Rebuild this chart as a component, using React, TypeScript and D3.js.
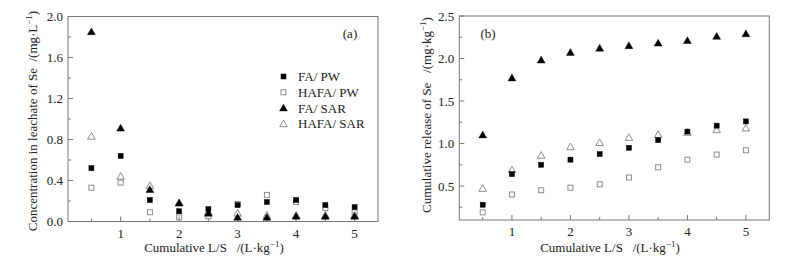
import React from "react";
import * as d3 from "d3";

const LS = [0.5, 1, 1.5, 2, 2.5, 3, 3.5, 4, 4.5, 5];
// Panel (a): concentration in leachate
const concFAPW = [0.52, 0.64, 0.21, 0.1, 0.12, 0.16, 0.19, 0.21, 0.16, 0.14];
const concHAFAPW = [0.33, 0.38, 0.09, 0.04, 0.05, 0.17, 0.26, 0.19, 0.13, 0.09];
const concFASAR = [1.85, 0.91, 0.31, 0.18, 0.08, 0.04, 0.04, 0.05, 0.05, 0.05];
const concHAFASAR = [0.83, 0.44, 0.35, 0.18, 0.09, 0.08, 0.06, 0.06, 0.06, 0.06];
// Panel (b): cumulative release
const cumFAPW = [0.28, 0.64, 0.75, 0.81, 0.875, 0.95, 1.04, 1.14, 1.21, 1.26];
const cumHAFAPW = [0.19, 0.4, 0.45, 0.48, 0.52, 0.6, 0.72, 0.81, 0.87, 0.92];
const cumFASAR = [1.1, 1.77, 1.98, 2.07, 2.12, 2.15, 2.18, 2.21, 2.26, 2.29];
const cumHAFASAR = [0.47, 0.69, 0.86, 0.96, 1.01, 1.07, 1.105, 1.13, 1.16, 1.18];

const seriesNames = ["FA/ PW", "HAFA/ PW", "FA/ SAR", "HAFA/ SAR"];
const xTicksMajor = [1, 2, 3, 4, 5];
const xTicksMinor = [0.5, 1.5, 2.5, 3.5, 4.5];
const yTicksA = [0, 0.4, 0.8, 1.2, 1.6, 2.0];
const yMinorA = [0.2, 0.6, 1.0, 1.4, 1.8];
const yTicksB = [0.5, 1.0, 1.5, 2.0, 2.5];
const yMinorB = [0.25, 0.75, 1.25, 1.75, 2.25];

const FONT = "'Liberation Serif', 'Times New Roman', Times, serif";
const AXIS = "#777";
const HOLLOW = "#808080";

type Shape = "sq" | "sqo" | "tri" | "trio";
const shapes: Shape[] = ["sq", "sqo", "tri", "trio"];

function Marker({ x, y, shape }: { x: number; y: number; shape: Shape }) {
  if (shape === "sq" || shape === "sqo") {
    const s = 5;
    return (
      <rect
        x={x - s / 2}
        y={y - s / 2}
        width={s}
        height={s}
        fill={shape === "sq" ? "#000" : "none"}
        stroke={shape === "sq" ? "#000" : HOLLOW}
        strokeWidth={shape === "sq" ? 0.5 : 0.9}
      />
    );
  }
  const tri = d3.symbol().type(d3.symbolTriangle).size(shape === "tri" ? 27 : 25)();
  return (
    <path
      d={tri as string}
      transform={`translate(${x},${y + 0.6})`}
      fill={shape === "tri" ? "#000" : "none"}
      stroke={shape === "tri" ? "#000" : HOLLOW}
      strokeWidth={shape === "tri" ? 0.4 : 0.9}
    />
  );
}

function Panel(props: {
  x0: number;
  x1: number;
  yTop: number;
  yBot: number;
  yDomain: [number, number];
  yTicks: number[];
  yMinor: number[];
  series: number[][];
  yTitle: React.ReactNode;
  yTitleX: number;
  yTitleY: number;
  xTitleX: number;
}) {
  const { x0, x1, yTop, yBot, yDomain, yTicks, yMinor, series } = props;
  const x = d3.scaleLinear().domain([0.1, 5.4]).range([x0, x1]);
  const y = d3.scaleLinear().domain(yDomain).range([yBot, yTop]);
  const ord = [1, 3, 0, 2];
  return (
    <g>
      <rect x={x0} y={yTop} width={x1 - x0} height={yBot - yTop} fill="none" stroke={AXIS} strokeWidth={1} />
      {xTicksMajor.map((t) => (
        <g key={"xm" + t}>
          <line x1={x(t)} x2={x(t)} y1={yBot} y2={yBot - 5} stroke={AXIS} />
          <text x={x(t)} y={yBot + 16} textAnchor="middle" fontSize={13} fontFamily={FONT} fill="#222">
            {t}
          </text>
        </g>
      ))}
      {xTicksMinor.map((t) => (
        <line key={"xn" + t} x1={x(t)} x2={x(t)} y1={yBot} y2={yBot - 3} stroke={AXIS} />
      ))}
      {yTicks.map((t) => (
        <g key={"ym" + t}>
          <line x1={x0} x2={x0 + 5} y1={y(t)} y2={y(t)} stroke={AXIS} />
          <text x={x0 - 5} y={y(t) + 4.5} textAnchor="end" fontSize={13} fontFamily={FONT} fill="#222">
            {t.toFixed(1)}
          </text>
        </g>
      ))}
      {yMinor.map((t) => (
        <line key={"yn" + t} x1={x0} x2={x0 + 3} y1={y(t)} y2={y(t)} stroke={AXIS} />
      ))}
      {ord.map((si) =>
        series[si].map((v, i) => <Marker key={si + "-" + i} x={x(LS[i])} y={y(v)} shape={shapes[si]} />)
      )}
      <text x={props.xTitleX} y={252} textAnchor="middle" fontSize={13} fontFamily={FONT} fill="#222">
        Cumulative L/S{"\u00a0\u00a0\u00a0"}/(L·kg
        <tspan fontSize={9} dy={-5}>−1</tspan>
        <tspan dy={5}>)</tspan>
      </text>
      <text
        transform={`translate(${props.yTitleX},${props.yTitleY}) rotate(-90)`}
        textAnchor="middle"
        fontSize={13}
        fontFamily={FONT}
        fill="#222"
      >
        {props.yTitle}
      </text>
    </g>
  );
}

export default function App() {
  return (
    <svg
      width={787}
      height={262}
      style={{ position: "absolute", left: 0, top: 0, background: "#fff" }}
    >
      <rect width={787} height={262} fill="#fff" />
      <Panel
        x0={68}
        x1={378}
        yTop={16.5}
        yBot={221.5}
        yDomain={[0, 2.0]}
        yTicks={yTicksA}
        yMinor={yMinorA}
        series={[concFAPW, concHAFAPW, concFASAR, concHAFASAR]}
        yTitleX={37}
        yTitleY={121}
        xTitleX={214}
        yTitle={
          <>
            Concentration in leachate of Se{"\u00a0\u00a0"}/(mg·L
            <tspan fontSize={9} dy={-5}>−1</tspan>
            <tspan dy={5}>)</tspan>
          </>
        }
      />
      <Panel
        x0={459.3}
        x1={769.3}
        yTop={16}
        yBot={220}
        yDomain={[0.1, 2.5]}
        yTicks={yTicksB}
        yMinor={yMinorB}
        series={[cumFAPW, cumHAFAPW, cumFASAR, cumHAFASAR]}
        yTitleX={431}
        yTitleY={115}
        xTitleX={610}
        yTitle={
          <>
            Cumulative release of Se{"\u00a0\u00a0\u00a0"}/(mg·kg
            <tspan fontSize={9} dy={-5}>−1</tspan>
            <tspan dy={5}>)</tspan>
          </>
        }
      />
      <text x={350} y={38} textAnchor="middle" fontSize={13} fontFamily={FONT} fill="#222">(a)</text>
      <text x={488} y={38} textAnchor="middle" fontSize={13} fontFamily={FONT} fill="#222">(b)</text>
      {seriesNames.map((n, i) => {
        const ly = 76.5 + i * 15.8;
        return (
          <g key={n}>
            <Marker x={283.5} y={ly} shape={shapes[i]} />
            <text x={298} y={ly + 4.5} fontSize={13} fontFamily={FONT} fill="#222">
              {n}
            </text>
          </g>
        );
      })}
    </svg>
  );
}
